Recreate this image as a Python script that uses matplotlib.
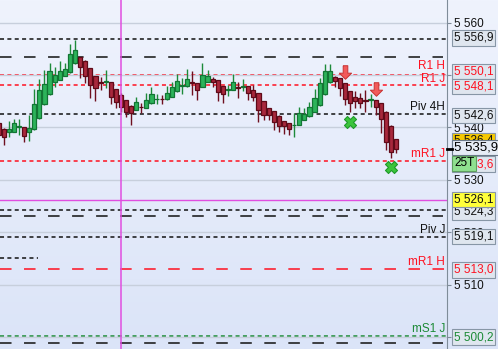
import numpy as np
import matplotlib
matplotlib.use("Agg")
import matplotlib.pyplot as plt
import matplotlib.transforms as mtransforms
from matplotlib.colors import LinearSegmentedColormap
from matplotlib.path import Path
from matplotlib.ticker import FuncFormatter, MultipleLocator

plt.rcParams["font.family"] = ["Liberation Sans", "DejaVu Sans"]
plt.rcParams["lines.scale_dashes"] = False

# ---------- candles ----------
opens = [5540.9, 5539.8, 5539.1, 5539.2, 5540.1, 5540.0, 5539.2, 5539.7, 5541.9, 5544.4,
         5546.3, 5548.6, 5549.1, 5549.9, 5550.5, 5552.3, 5553.4, 5552.7, 5551.3, 5549.8,
         5548.6, 5548.7, 5548.6, 5547.3, 5546.2, 5545.3, 5544.1, 5543.3, 5544.0, 5543.8,
         5544.6, 5545.4, 5545.5, 5545.4, 5545.9, 5546.9, 5548.0, 5547.9, 5548.6, 5548.4,
         5547.8, 5548.7, 5549.3, 5549.1, 5547.9, 5547.2, 5547.2, 5547.7, 5547.8, 5547.9,
         5547.2, 5546.5, 5545.1, 5543.7, 5543.2, 5542.2, 5541.2, 5540.8, 5540.4, 5540.5,
         5541.4, 5542.1, 5543.0, 5544.2, 5546.3, 5548.6, 5549.7, 5549.4, 5548.4, 5547.0,
         5545.8, 5545.6, 5545.2, 5545.3, 5545.3, 5544.6, 5543.0, 5540.3, 5537.8]
highs = [5541.2, 5539.9, 5541.2, 5541.6, 5541.6, 5540.1, 5542.4, 5547.4, 5549.3, 5551.0,
         5552.3, 5551.6, 5552.7, 5552.3, 5555.9, 5556.7, 5553.5, 5552.8, 5551.4, 5549.9,
         5549.7, 5551.0, 5548.7, 5547.3, 5546.5, 5545.3, 5544.2, 5545.8, 5544.7, 5546.5,
         5547.8, 5546.3, 5546.2, 5547.9, 5548.7, 5550.3, 5549.4, 5551.1, 5550.8, 5548.5,
         5552.3, 5551.0, 5549.6, 5549.1, 5548.0, 5548.1, 5550.2, 5548.6, 5549.3, 5548.0,
         5548.1, 5546.6, 5545.1, 5543.7, 5543.2, 5542.3, 5541.3, 5540.9, 5542.7, 5544.0,
         5543.8, 5544.9, 5547.4, 5549.5, 5552.1, 5552.1, 5549.8, 5549.4, 5548.5, 5547.0,
         5547.0, 5546.5, 5547.2, 5546.3, 5545.3, 5544.7, 5543.1, 5540.4, 5537.8]
lows = [5537.6, 5536.7, 5538.2, 5539.1, 5538.6, 5537.3, 5537.4, 5539.5, 5541.7, 5544.3,
        5546.2, 5547.8, 5549.0, 5549.8, 5550.4, 5552.1, 5549.5, 5548.5, 5545.7, 5545.1,
        5547.2, 5547.6, 5544.4, 5543.7, 5543.0, 5542.0, 5540.5, 5543.3, 5542.7, 5543.7,
        5544.5, 5544.4, 5544.5, 5545.3, 5545.8, 5546.8, 5546.3, 5547.8, 5546.2, 5545.3,
        5547.7, 5548.7, 5547.8, 5545.1, 5544.7, 5546.0, 5547.1, 5545.7, 5547.0, 5545.3,
        5545.1, 5541.1, 5541.4, 5541.4, 5539.5, 5539.2, 5538.7, 5538.6, 5538.1, 5540.4,
        5541.4, 5542.0, 5542.9, 5544.1, 5546.2, 5548.5, 5547.8, 5546.1, 5544.3, 5543.0,
        5543.7, 5543.7, 5543.0, 5544.0, 5542.3, 5538.9, 5535.7, 5534.2, 5535.2]
closes = [5538.6, 5538.2, 5539.7, 5540.8, 5540.3, 5538.4, 5539.9, 5544.5, 5547.2, 5548.3,
          5550.8, 5550.0, 5550.8, 5551.1, 5554.0, 5554.8, 5551.6, 5549.9, 5548.1, 5547.5,
          5548.5, 5548.8, 5545.9, 5544.9, 5544.0, 5543.0, 5542.7, 5544.9, 5543.9, 5545.3,
          5546.3, 5545.5, 5545.4, 5546.5, 5547.7, 5548.9, 5548.1, 5549.2, 5548.5, 5547.2,
          5550.0, 5549.9, 5548.6, 5546.8, 5546.3, 5547.3, 5548.6, 5547.6, 5547.9, 5546.5,
          5545.9, 5543.3, 5542.3, 5542.4, 5541.1, 5540.2, 5540.2, 5539.7, 5540.5, 5542.7,
          5542.5, 5543.9, 5545.6, 5548.4, 5550.8, 5550.8, 5548.9, 5547.5, 5545.4, 5544.6,
          5545.1, 5544.7, 5545.1, 5545.4, 5543.9, 5541.6, 5537.3, 5535.3, 5535.9]

# ---------- levels ----------
level_prices = [5556.9, 5553.45, 5550.1, 5548.1, 5542.6, 5533.6, 5526.1,
                5524.3, 5523.05, 5519.1, 5515.1, 5513.0, 5500.2, 5498.8]
level_names = ["", "", "R1 H", "R1 J", "Piv 4H", "mR1 J", "",
               "", "", "Piv J", "", "mR1 H", "mS1 J", ""]

# price tags on the right axis
tag_prices = [5533.6, 5536.4, 5524.3, 5556.9, 5550.1, 5548.1, 5542.6,
              5526.1, 5519.1, 5513.0, 5500.2]
current_price = closes[-1]
timer_text = "25T"

# signals
sell_idx = [68, 74]
sell_price = [5550.5, 5547.3]
buy_idx = [69, 77]
buy_price = [5541.1, 5532.4]
session_idx = 24

# ---------- styles ----------
BLACK, RED, GREEN, MAG = "#111111", "#ff1020", "#1b8a35", "#e04ee0"
SHORT = (2.9, 2.4)
LONG = (8.3, 9.0)
level_colors = [BLACK, BLACK, RED, RED, BLACK, RED, MAG,
                BLACK, BLACK, BLACK, BLACK, RED, GREEN, BLACK]
level_dashes = [SHORT, LONG, SHORT, SHORT, SHORT, SHORT, None,
                SHORT, LONG, SHORT, SHORT, LONG, SHORT, LONG]
level_xmax = [1, 0.99, 1, 1, 1, 1, 1, 1, 0.99, 1, 0.085, 1, 1, 0.99]
name_dy = {"R1 H": 9, "R1 J": 6}
tag_text_colors = [RED, BLACK, BLACK, BLACK, RED, RED, BLACK,
                   BLACK, BLACK, RED, GREEN]
tag_fill = ["#dfe6ef", "#f5c800", "#dfe6ef", "#dfe6ef", "#dfe6ef", "#dfe6ef", "#dfe6ef",
            "#ffff3a", "#dfe6ef", "#dfe6ef", "#dfe6ef"]
tag_dy = [-3, 6, -2, 1, 3, -1.5, -1.5, 1, 0.5, -1, -1]


def fmt_tag(v):
    return f"{v:,.1f}".replace(",", " ").replace(".", ",")


fig = plt.figure(figsize=(4.98, 3.49), dpi=100)

# background gradient
bg = fig.add_axes([0, 0, 1, 1], zorder=-1)
cmap = LinearSegmentedColormap.from_list("bg", ["#eff3fd", "#dbe4f8"])
bg.imshow(np.linspace(0, 1, 256).reshape(-1, 1), aspect="auto", cmap=cmap,
          extent=[0, 1, 0, 1])
bg.axis("off")

ax = fig.add_axes([0, 0, 447 / 498, 1])
ax.set_facecolor("none")
ax.set_xlim(0.275, 88.0)
ax.set_ylim(5497.73, 5564.33)

# grid
ax.yaxis.set_major_locator(MultipleLocator(10))
ax.grid(axis="y", color="#c7cfdc", lw=1.0, zorder=0)
ax.set_xticks([])

# levels
for p, c, d, xm in zip(level_prices, level_colors, level_dashes, level_xmax):
    if d is None:
        ax.axhline(p, color=c, lw=1.0, zorder=1, xmax=xm)
    else:
        ax.axhline(p, color=c, lw=1.1, dashes=d, zorder=1, xmax=xm)

# candles
o = np.array(opens)
h = np.array(highs)
l = np.array(lows)
c = np.array(closes)
x = np.arange(len(o))
up = c >= o
body_lo = np.minimum(o, c)
body_h = np.maximum(np.abs(c - o), 0.05)
ax.vlines(x[up], l[up], h[up], color="#1d8a3a", lw=1.0, zorder=3)
ax.vlines(x[~up], l[~up], h[~up], color="#6e0f1f", lw=1.0, zorder=3)
ax.bar(x[up], body_h[up], bottom=body_lo[up], width=0.82, color="#2db35a",
       edgecolor="#137534", lw=0.9, zorder=4)
ax.bar(x[~up], body_h[~up], bottom=body_lo[~up], width=0.82, color="#a8283c",
       edgecolor="#5e0a18", lw=0.9, zorder=4)

# session line
ax.axvline(session_idx, color=MAG, lw=1.1, zorder=5)

# signals
arrow = Path([(-0.17, 0.5), (0.17, 0.5), (0.17, -0.05), (0.45, -0.05), (0, -0.5),
              (-0.45, -0.05), (-0.17, -0.05), (-0.17, 0.5)])
ax.scatter(sell_idx, sell_price, marker=arrow, s=95, color="#f25a5a",
           edgecolor="#c83232", lw=0.7, zorder=6)
ax.scatter(buy_idx, buy_price, marker="X", s=75, color="#3cc43c",
           edgecolor="#1f9a2a", lw=0.8, zorder=6)

# right axis
for side in ["left", "top", "bottom"]:
    ax.spines[side].set_visible(False)
ax.spines["right"].set_color("#7f8c99")
ax.yaxis.tick_right()
ax.tick_params(axis="y", direction="out", length=3.2, width=0.8, color="#7f8c99",
               pad=2, labelsize=8.5, labelcolor=BLACK)
ax.yaxis.set_major_formatter(FuncFormatter(lambda v, p: f"{v:,.0f}".replace(",", " ")))

blend = mtransforms.blended_transform_factory(ax.transAxes, ax.transData)

# level names inside the chart
for p, name, col in zip(level_prices, level_names, level_colors):
    if not name:
        continue
    tr = mtransforms.offset_copy(blend, fig=fig, x=-2, y=name_dy.get(name, 7), units="dots")
    ax.text(1.0, p, name, transform=tr, ha="right", va="center", fontsize=8.5,
            color=col, zorder=7)

# price tags
for p, tc, fc, dy in zip(tag_prices, tag_text_colors, tag_fill, tag_dy):
    tr = mtransforms.offset_copy(blend, fig=fig, x=7, y=dy, units="dots")
    ax.text(1.0, p, fmt_tag(p), transform=tr, ha="left", va="center", fontsize=8.5,
            color=tc, zorder=8, clip_on=False,
            bbox=dict(boxstyle="square,pad=0.15", fc=fc, ec="#8796a6", lw=0.8))

# current price
tr = mtransforms.offset_copy(blend, fig=fig, x=7, y=1.5, units="dots")
ax.text(1.0, current_price, fmt_tag(current_price), transform=tr, ha="left",
        va="center", fontsize=9.5, color="black", zorder=9, clip_on=False,
        bbox=dict(boxstyle="square,pad=0.12", fc="#e6ecf5", ec="#6a7888", lw=0.8))
ax.plot([1.0, 1.0 + 5 / 447], [current_price, current_price], transform=blend,
        color="black", lw=2, clip_on=False, zorder=9)
tr = mtransforms.offset_copy(blend, fig=fig, x=7, y=-14.5, units="dots")
ax.text(1.0, current_price, timer_text, transform=tr, ha="left", va="center",
        fontsize=8.5, color="black", zorder=10, clip_on=False,
        bbox=dict(boxstyle="square,pad=0.15", fc="#8fe08f", ec="#5f9f5f", lw=0.8))

fig.savefig("out.png", dpi=100)
